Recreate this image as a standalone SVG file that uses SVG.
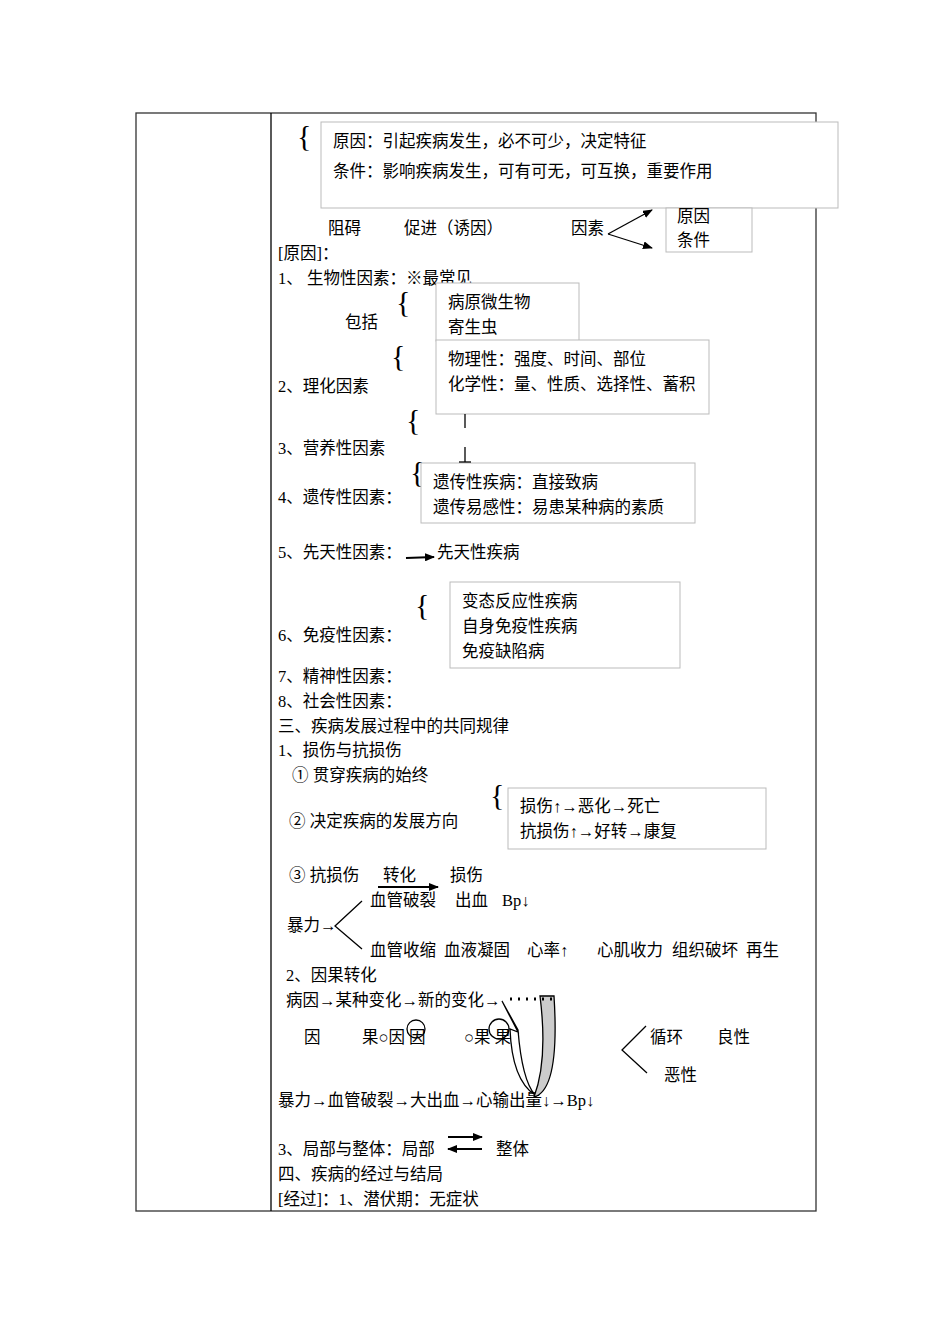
<svg xmlns="http://www.w3.org/2000/svg" width="950" height="1344" viewBox="0 0 950 1344">
<style>
text{font-family:"Liberation Serif","Noto Sans CJK SC",serif;font-size:16.5px;fill:#000}
.b{fill:#fff;stroke:#bbb;stroke-width:1}
.l{stroke:#000;fill:none;stroke-width:1.3}
.br{font-size:30px;font-family:"Liberation Serif",serif}
</style>
<defs><marker id="a" markerUnits="userSpaceOnUse" markerWidth="10" markerHeight="8" refX="9" refY="4" orient="auto"><path d="M0,0L10,4L0,8z" fill="#000"/></marker></defs>
<rect width="950" height="1344" fill="#fff"/>
<g id="table" class="l"><rect x="136" y="113" width="680" height="1098" stroke="#333"/><line x1="271" y1="113" x2="271" y2="1211"/></g>
<g id="n1"><text class="br" x="297" y="146">{</text><rect class="b" x="321" y="122" width="517" height="86"/><text x="333" y="147">原因：引起疾病发生，必不可少，决定特征</text><text x="333" y="177">条件：影响疾病发生，可有可无，可互换，重要作用</text></g>
<g id="n2"><rect class="b" x="666" y="208" width="86" height="44"/><text x="677" y="222">原因</text><text x="677" y="246">条件</text>
<text x="328" y="234">阻碍</text><text x="404" y="234">促进（诱因）</text><text x="571" y="234">因素</text></g>
<g id="text1">
<text x="278" y="259">[原因]：</text>
<text x="278" y="284">1、 生物性因素：※最常见</text>
<text class="br" x="396" y="312">{</text><text x="345" y="328">包括</text>
<rect class="b" x="436" y="283" width="143" height="58"/><text x="448" y="308">病原微生物</text><text x="448" y="333">寄生虫</text>
<rect class="b" x="436" y="340" width="273" height="74"/><text x="448" y="365">物理性：强度、时间、部位</text><text x="448" y="390">化学性：量、性质、选择性、蓄积</text>
<text class="br" x="391" y="366">{</text>
<text x="278" y="392">2、理化因素</text>
<text class="br" x="406" y="430">{</text>
<text x="278" y="454">3、营养性因素</text>
<text class="br" x="410" y="482">{</text>
<rect class="b" x="421" y="463" width="274" height="60"/><text x="433" y="488">遗传性疾病：直接致病</text><text x="433" y="513">遗传易感性：易患某种病的素质</text>
<text x="278" y="503">4、遗传性因素：</text>
<text x="278" y="558">5、先天性因素：</text><text x="437" y="558">先天性疾病</text>
<text class="br" x="415" y="615">{</text>
<rect class="b" x="450" y="582" width="230" height="86"/><text x="462" y="607">变态反应性疾病</text><text x="462" y="632">自身免疫性疾病</text><text x="462" y="657">免疫缺陷病</text>
<text x="278" y="641">6、免疫性因素：</text>
<text x="278" y="682">7、精神性因素：</text>
<text x="278" y="707">8、社会性因素：</text>
<text x="278" y="732">三、疾病发展过程中的共同规律</text>
<text x="278" y="756">1、损伤与抗损伤</text>
<text x="292" y="781">①  贯穿疾病的始终</text>
<text class="br" x="490" y="805">{</text>
<rect class="b" x="508" y="788" width="258" height="61"/><text x="520" y="812">损伤↑→恶化→死亡</text><text x="520" y="837">抗损伤↑→好转→康复</text>
<text x="289" y="827">②  决定疾病的发展方向</text>
<text x="289" y="881">③  抗损伤</text><text x="383" y="881">转化</text><text x="450" y="881">损伤</text>
<text x="370" y="906">血管破裂</text><text x="455" y="906">出血</text><text x="502" y="906">Bp↓</text>
<text x="287" y="931">暴力→</text>
<text x="370" y="956">血管收缩</text><text x="444" y="956">血液凝固</text><text x="527" y="956">心率↑</text><text x="597" y="956">心肌收力</text><text x="672" y="956">组织破坏</text><text x="746" y="956">再生</text>
<text x="286" y="981">2、因果转化</text>
<text x="286" y="1006">病因→某种变化→新的变化→</text>
<text x="304" y="1043">因</text><text x="362" y="1043">果○因 因</text><text x="464" y="1043">○果 果</text>
<text x="650" y="1043">循环</text><text x="717" y="1043">良性</text><text x="664" y="1081">恶性</text>
<text x="278" y="1106">暴力→血管破裂→大出血→心输出量↓→Bp↓</text>
<text x="278" y="1155">3、局部与整体：局部</text><text x="496" y="1155">整体</text>
<text x="278" y="1180">四、疾病的经过与结局</text>
<text x="278" y="1205">[经过]：1、潜伏期：无症状</text>
</g>
<g id="connectors" class="l">
<path d="M608,234L652,210" marker-end="url(#a)"/><path d="M608,234L652,248" marker-end="url(#a)"/>
<line x1="465" y1="414" x2="465" y2="428"/><line x1="465" y1="447" x2="465" y2="462"/><line x1="459" y1="462" x2="471" y2="462"/>
<line x1="406" y1="558" x2="434" y2="557" marker-end="url(#a)" stroke-width="2"/>
<line x1="378" y1="887" x2="438" y2="887" marker-end="url(#a)" stroke-width="2"/>
<path d="M362,901L335,926L362,949"/>
<path d="M646,1026L622,1050L647,1073"/>
<path d="M502,1001L518,1032L510,1029Q512,1080 535,1095Q522,1080 518,1030L502,1001Z" fill="#fff"/>
<path d="M540,996L554,996Q560,1090 534,1097Q548,1060 540,996Z" fill="#ccc"/>
<circle cx="416" cy="1029" r="9"/><circle cx="499" cy="1029" r="10"/>
<line x1="510" y1="999" x2="556" y2="999" stroke-dasharray="2,6" stroke-width="3"/>
<line x1="448" y1="1137" x2="482" y2="1137" marker-end="url(#a)" stroke-width="2"/>
<line x1="482" y1="1149" x2="448" y2="1149" marker-end="url(#a)" stroke-width="2"/>
</g>
</svg>
